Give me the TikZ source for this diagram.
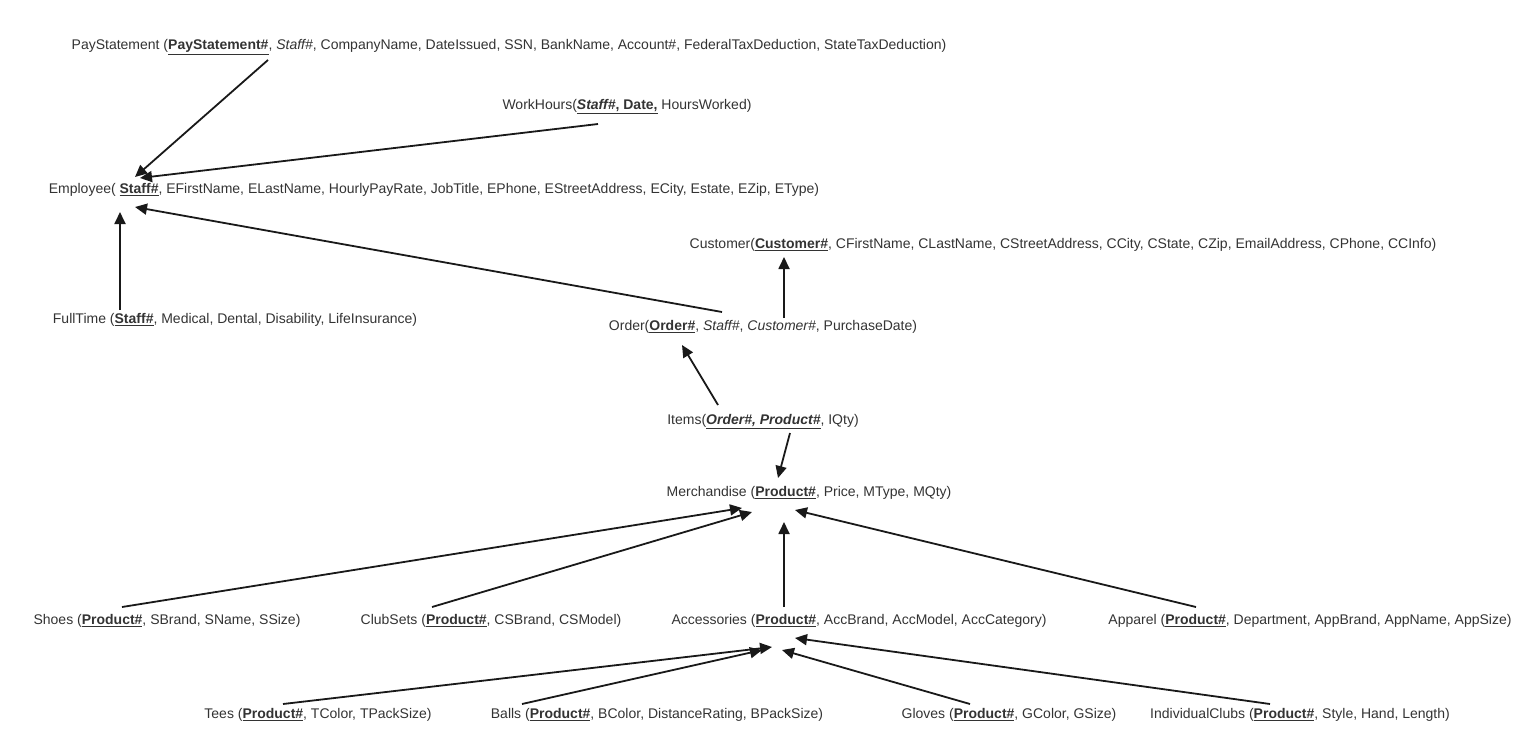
\documentclass[tikz,border=0pt]{standalone}
\usepackage{fontspec}
\setmainfont{Liberation Sans}
\usetikzlibrary{arrows.meta}
\newcommand{\ukey}[1]{\underline{\textbf{#1}}}
\newcommand{\ukeyi}[1]{\underline{\textbf{\textit{#1}}}}
\tikzset{
  lbl/.style={font=\fontsize{14}{16}\selectfont, text=black!80, inner xsep=0pt, inner ysep=0pt, anchor=center},
  arr/.style={line width=1.8pt, draw=black!90, -{Triangle[length=12pt,width=11pt]}},
}
\begin{document}
\begin{tikzpicture}[x=1pt,y=-1pt]
\useasboundingbox (0,0) rectangle (1530,745);
\node[lbl] (pay) at (509,47) {PayStatement (\ukey{PayStatement\#}, \textit{Staff\#}, CompanyName, DateIssued, SSN, BankName, Account\#, FederalTaxDeduction, StateTaxDeduction)};
\node[lbl] (work) at (627,107) {WorkHours(\underline{\textbf{\textit{Staff\#}}\textbf{, Date,}} HoursWorked)};
\node[lbl] (emp) at (434,190) {Employee( \ukey{Staff\#}, EFirstName, ELastName, HourlyPayRate, JobTitle, EPhone, EStreetAddress, ECity, Estate, EZip, EType)};
\node[lbl] (cust) at (1063,245) {Customer(\ukey{Customer\#}, CFirstName, CLastName, CStreetAddress, CCity, CState, CZip, EmailAddress, CPhone, CCInfo)};
\node[lbl] (full) at (235,320) {FullTime (\ukey{Staff\#}, Medical, Dental, Disability, LifeInsurance)};
\node[lbl] (order) at (763,327) {Order(\ukey{Order\#}, \textit{Staff\#}, \textit{Customer\#}, PurchaseDate)};
\node[lbl] (items) at (763,422) {Items(\ukeyi{Order\#, Product\#}, IQty)};
\node[lbl] (merch) at (809,493) {Merchandise (\ukey{Product\#}, Price, MType, MQty)};
\node[lbl] (shoes) at (167,621) {Shoes (\ukey{Product\#}, SBrand, SName, SSize)};
\node[lbl] (club) at (491,621) {ClubSets (\ukey{Product\#}, CSBrand, CSModel)};
\node[lbl] (acc) at (859,621) {Accessories (\ukey{Product\#}, AccBrand, AccModel, AccCategory)};
\node[lbl] (app) at (1310,621) {Apparel (\ukey{Product\#}, Department, AppBrand, AppName, AppSize)};
\node[lbl] (tees) at (318,715) {Tees (\ukey{Product\#}, TColor, TPackSize)};
\node[lbl] (balls) at (657,715) {Balls (\ukey{Product\#}, BColor, DistanceRating, BPackSize)};
\node[lbl] (gloves) at (1009,715) {Gloves (\ukey{Product\#}, GColor, GSize)};
\node[lbl] (ic) at (1300,715) {IndividualClubs (\ukey{Product\#}, Style, Hand, Length)};

\draw[arr] ([shift={(-241,13)}]pay.center) -- ([shift={(-299,-13)}]emp.center);
\draw[arr] ([shift={(-29,17)}]work.center) -- ([shift={(-294,-12)}]emp.center);
\draw[arr] ([shift={(-115,-10)}]full.center) -- ([shift={(-314,22)}]emp.center);
\draw[arr] ([shift={(-41,-15)}]order.center) -- ([shift={(-299,17)}]emp.center);
\draw[arr] ([shift={(21,-9)}]order.center) -- ([shift={(-279,12)}]cust.center);
\draw[arr] ([shift={(-45,-17)}]items.center) -- ([shift={(-81,18)}]order.center);
\draw[arr] ([shift={(27,11)}]items.center) -- ([shift={(-31,-15)}]merch.center);
\draw[arr] ([shift={(-45,-14)}]shoes.center) -- ([shift={(-67,15)}]merch.center);
\draw[arr] ([shift={(-59,-14)}]club.center) -- ([shift={(-57,19)}]merch.center);
\draw[arr] ([shift={(-75,-14)}]acc.center) -- ([shift={(-25,29)}]merch.center);
\draw[arr] ([shift={(-114,-14)}]app.center) -- ([shift={(-14,17)}]merch.center);
\draw[arr] ([shift={(-35,-11)}]tees.center) -- ([shift={(-87,26)}]acc.center);
\draw[arr] ([shift={(-135,-11)}]balls.center) -- ([shift={(-97,29)}]acc.center);
\draw[arr] ([shift={(-39,-11)}]gloves.center) -- ([shift={(-77,29)}]acc.center);
\draw[arr] ([shift={(-30,-11)}]ic.center) -- ([shift={(-64,17)}]acc.center);
\end{tikzpicture}
\end{document}
